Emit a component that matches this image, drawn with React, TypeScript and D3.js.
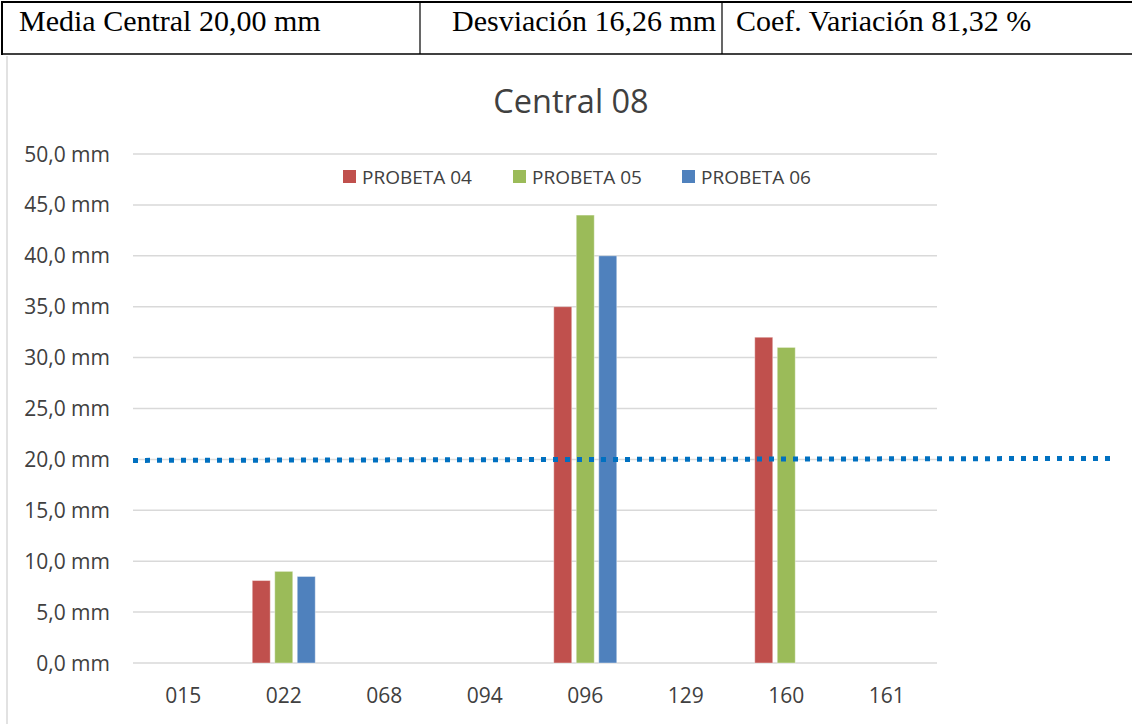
import React from "react";
import * as d3 from "d3";

const categories = ["015", "022", "068", "094", "096", "129", "160", "161"];
const seriesNames = ["PROBETA 04", "PROBETA 05", "PROBETA 06"];
const probeta04 = [null, 8.1, null, null, 35.0, null, 32.0, null];
const probeta05 = [null, 9.0, null, null, 44.0, null, 31.0, null];
const probeta06 = [null, 8.5, null, null, 40.0, null, null, null];
const yTicks = [0, 5, 10, 15, 20, 25, 30, 35, 40, 45, 50];
const mediaCentral = 20.0;
const headerTexts = ["Media Central 20,00 mm", "Desviación 16,26 mm", "Coef. Variación 81,32 %"];
const colors = ["#C0504D", "#9BBB59", "#4F81BD"];

export default function App() {
  const W = 1132, H = 724;
  const left = 133, right = 937, top = 154, bottom = 663;
  const x = d3.scaleBand<string>().domain(categories).range([left, right]);
  const y = d3.scaleLinear().domain([0, 50]).range([bottom, top]);
  const inner = d3.scaleBand<number>().domain([0, 1, 2]).range([0, 63]).paddingInner(0.2);
  const series = [probeta04, probeta05, probeta06];
  const fmt = (v: number) => v.toFixed(1).replace(".", ",") + " mm";
  const legendX = [343, 513, 682];
  const sans = "'Open Sans', 'Liberation Sans', sans-serif";

  return (
    <svg width={W} height={H} style={{ position: "absolute", left: 0, top: 0, background: "#fff" }}>
      {/* header table */}
      <g fontFamily="'Liberation Serif', serif" fontSize={30} fill="#000">
        <line x1={1} x2={W} y1={2} y2={2} stroke="#000" strokeWidth={2} />
        <line x1={1} x2={W} y1={54} y2={54} stroke="#000" strokeWidth={1.5} />
        <line x1={2} x2={2} y1={1} y2={55} stroke="#000" strokeWidth={2} />
        <line x1={420} x2={420} y1={2} y2={54} stroke="#000" strokeWidth={1.2} />
        <line x1={722} x2={722} y1={2} y2={54} stroke="#000" strokeWidth={1.2} />
        <text x={19} y={31}>{headerTexts[0]}</text>
        <text x={452} y={31}>{headerTexts[1]}</text>
        <text x={736} y={31}>{headerTexts[2]}</text>
      </g>
      <line x1={7} x2={7} y1={56} y2={H} stroke="#D9D9D9" strokeWidth={1.5} />
      <text x={571} y={113} textAnchor="middle" fontFamily={sans} fontSize={32.5} fill="#404040">Central 08</text>
      {/* grid */}
      {yTicks.map((t) => (
        <g key={t}>
          <line x1={left} x2={right} y1={y(t)} y2={y(t)} stroke="#D9D9D9" strokeWidth={1.5} />
          <text x={110} y={y(t) + 7.5} textAnchor="end" fontFamily={sans} fontSize={21} fill="#404040">{fmt(t)}</text>
        </g>
      ))}
      {/* bars */}
      {series.map((s, si) =>
        s.map((v, ci) =>
          v == null ? null : (
            <rect key={si + "-" + ci}
              x={(x(categories[ci]) as number) + (x.bandwidth() - 63) / 2 + (inner(si) as number)}
              y={y(v)} width={inner.bandwidth()} height={bottom - y(v)}
              fill={colors[si]} stroke="#fff" strokeOpacity={0.4} strokeWidth={1} />
          )
        )
      )}
      {/* x labels */}
      {categories.map((c) => (
        <text key={c} x={(x(c) as number) + x.bandwidth() / 2} y={702.5} textAnchor="middle" fontFamily={sans} fontSize={21} fill="#404040">{c}</text>
      ))}
      {/* legend */}
      {seriesNames.map((n, i) => (
        <g key={n}>
          <rect x={legendX[i]} y={170} width={13} height={13} fill={colors[i]} />
          <text x={legendX[i] + 19} y={183.5} fontFamily={sans} fontSize={19} fill="#404040">{n}</text>
        </g>
      ))}
      {/* media central line */}
      <line x1={left} x2={1110} y1={y(mediaCentral) + 1} y2={y(mediaCentral) - 1} stroke="#0070C0" strokeWidth={5} strokeDasharray="5,7" />
    </svg>
  );
}
